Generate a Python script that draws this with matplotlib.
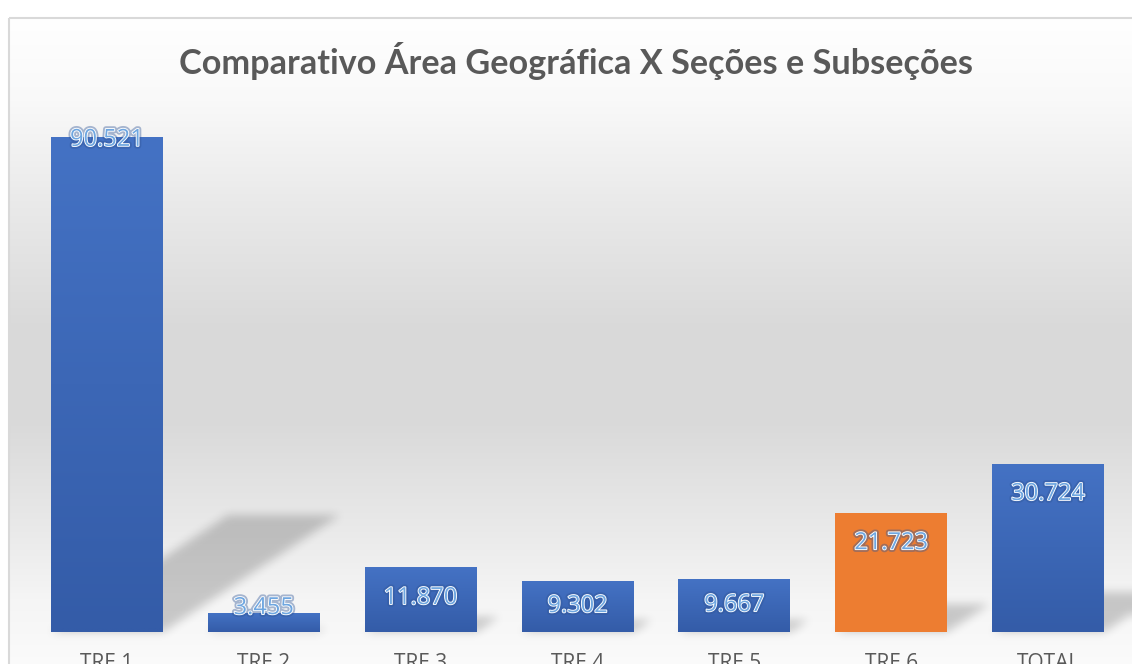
import numpy as np
import matplotlib
matplotlib.use("Agg")
import matplotlib.pyplot as plt
import matplotlib.patheffects as pe
from matplotlib.path import Path
from matplotlib.patches import Rectangle

# dados do gráfico
categorias = ["TRE 1", "TRE 2", "TRE 3", "TRE 4", "TRE 5", "TRE 6", "TOTAL"]
valores = [90521, 3455, 11870, 9302, 9667, 21723, 30724]
cores = ["#4472c4", "#4472c4", "#4472c4", "#4472c4", "#4472c4", "#ed7d31", "#4472c4"]
titulo = "Comparativo Área Geográfica X Seções e Subseções"

# deslocamento dos rótulos em relação ao topo de cada barra (px)
desloc_rotulos = [-3, 5, -31, -25, -26, -30, -30]

W, H = 1132, 664
fig = plt.figure(figsize=(W / 100, H / 100), dpi=100)
fig.patch.set_facecolor("white")

# fundo com gradiente (coordenadas em pixels)
bg = fig.add_axes([0, 0, 1, 1], zorder=0)
bg.set_xlim(0, W)
bg.set_ylim(H, 0)
bg.axis("off")
ys = np.arange(17, H + 1)
stops_y = [17, 100, 200, 330, 420, 520, 600, 680]
stops_c = [255, 249, 234, 217, 217, 232, 245, 252]
g = np.interp(ys, stops_y, stops_c) / 255.0
grad = np.repeat(g[:, None], W - 8, axis=1)
bg.imshow(np.dstack([grad, grad, grad]), extent=(8, W, H, 17),
          aspect="auto", interpolation="nearest", zorder=0)
bg.add_patch(Rectangle((8.5, 17.5), W + 50, H + 50, fill=False,
                       edgecolor="#d9d9d9", lw=1.5, zorder=3))

# eixo principal
ax = fig.add_axes([28.5 / W, 32 / H, 1098 / W, 547 / H], zorder=2)
ax.set_facecolor("none")
ax.set_xlim(-0.5, len(categorias) - 0.5)
ax.set_ylim(0, 100000)
for s in ax.spines.values():
    s.set_visible(False)
ax.set_yticks([])
x = np.arange(len(categorias))
ax.set_xticks(x)
ax.set_xticklabels(categorias, fontsize=15, color="#595959", family="Open Sans")
ax.tick_params(axis="x", length=0, pad=15)

barras = ax.bar(x, valores, width=0.713, color=cores, zorder=2)

# gradiente vertical nas barras azuis
for b, c in zip(barras, cores):
    if c != "#4472c4":
        continue
    top = np.array([68, 114, 196]) / 255
    bot = np.array([52, 92, 168]) / 255
    t = np.linspace(0, 1, 64)[:, None]
    img = (top * (1 - t) + bot * t)[:, None, :]
    im = ax.imshow(img, extent=(b.get_x(), b.get_x() + b.get_width(), 0, b.get_height()),
                   aspect="auto", interpolation="bilinear", zorder=2.5)
    im.set_clip_path(b)

# sombras em perspectiva, calculadas a partir das barras
mask = np.zeros((H, W))
yy, xx = np.mgrid[0:H, 0:W]
pts = np.column_stack([xx.ravel() + 0.5, (H - yy.ravel() - 0.5)])
for b in barras:
    (x0, y0), (x1, y1) = ax.transData.transform(
        [(b.get_x(), 0), (b.get_x() + b.get_width(), b.get_height())])
    h = y1 - y0
    dh, dx = 0.236 * h, 0.357 * h
    poly = Path([(x0, y0), (x1, y0), (x1 + dx, y0 + dh), (x0 + dx, y0 + dh), (x0, y0)])
    mask = np.maximum(mask, poly.contains_points(pts).reshape(H, W).astype(float))


def box_blur(a, r):
    k = 2 * r + 1
    p = np.pad(a, ((r, r), (0, 0)), mode="edge")
    c = np.cumsum(np.vstack([np.zeros((1, p.shape[1])), p]), axis=0)
    a = (c[k:] - c[:-k]) / k
    p = np.pad(a, ((0, 0), (r, r)), mode="edge")
    c = np.cumsum(np.hstack([np.zeros((p.shape[0], 1)), p]), axis=1)
    return (c[:, k:] - c[:, :-k]) / k


for _ in range(3):
    mask = box_blur(mask, 4)
sombra = np.zeros((H, W, 4))
sombra[..., 3] = 0.19 * mask
sombra[:17, :, 3] = 0
sombra[:, :9, 3] = 0
bg.imshow(sombra, extent=(0, W, H, 0), aspect="auto", interpolation="nearest", zorder=1)

# rótulos de dados
efeitos = [pe.Stroke(linewidth=4.0, foreground="#2f5597", alpha=0.4),
           pe.Stroke(linewidth=1.3, foreground="white"), pe.Normal()]
for b, v, d in zip(barras, valores, desloc_rotulos):
    txt = f"{v:,}".replace(",", ".")
    ax.annotate(txt, (b.get_x() + b.get_width() / 2, b.get_height()),
                xytext=(0, d * 0.72), textcoords="offset points",
                ha="center", va="center", fontsize=17, family="Open Sans",
                color="#6ea6e0", path_effects=efeitos, zorder=4)

fig.text(576 / W, (H - 74) / H, titulo, ha="center", va="baseline",
         fontsize=24.7, fontweight="bold", family="Lato", color="#595959")

fig.savefig("out.png", dpi=100)
